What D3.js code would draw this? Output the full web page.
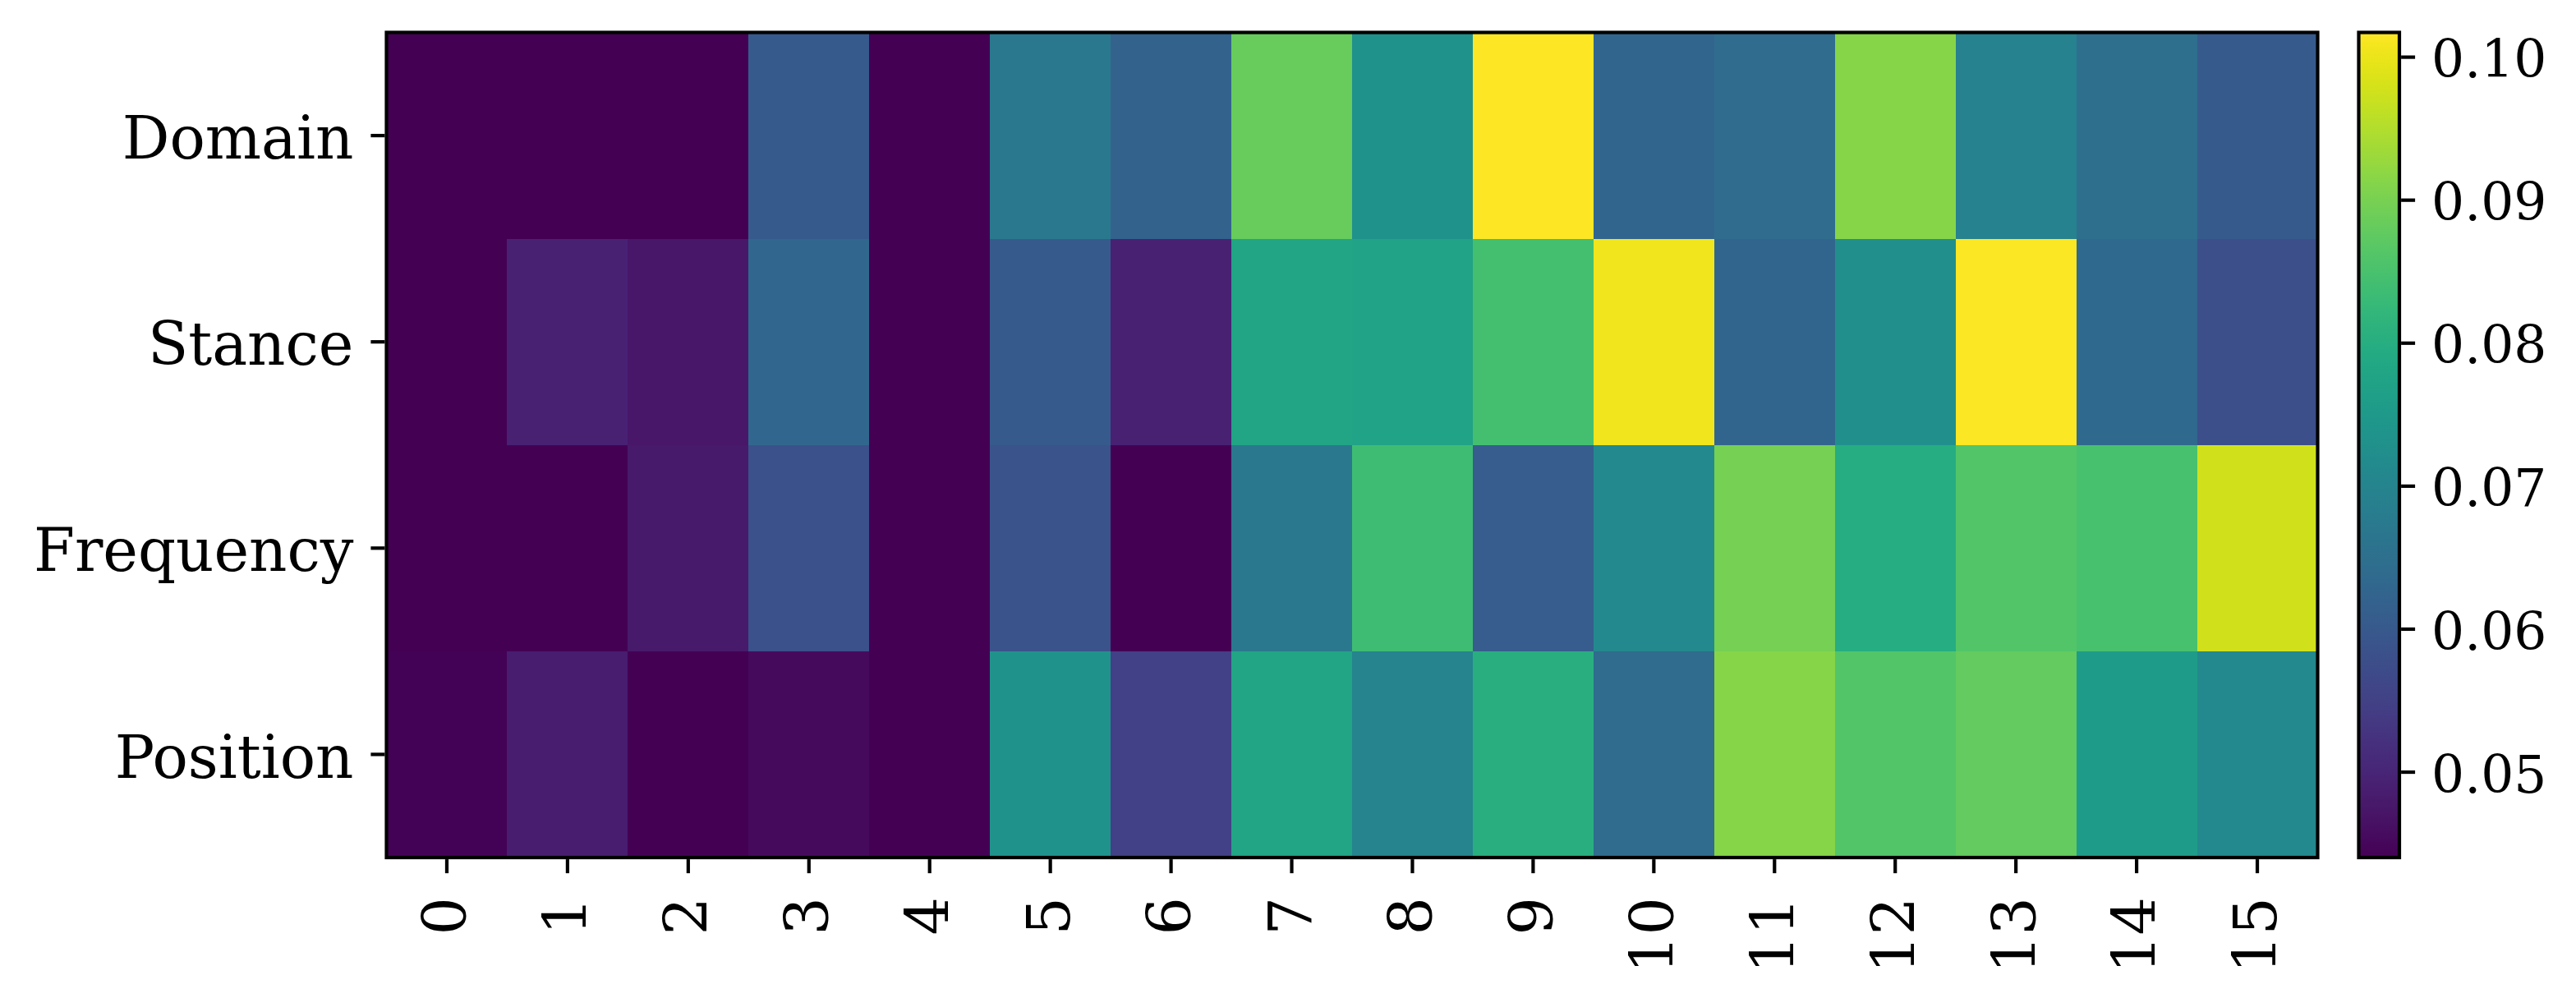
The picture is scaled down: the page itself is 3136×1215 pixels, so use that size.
<!DOCTYPE html>
<html>
<head>
<meta charset="utf-8">
<script src="https://cdn.jsdelivr.net/npm/d3@7"></script>
<style>
  html, body { margin: 0; padding: 0; background: #fff; }
  svg { display: block; }
  text { font-family: "DejaVu Serif", serif; fill: #000; }
</style>
</head>
<body>
<svg id="chart" width="3136" height="1215"></svg>
<script>
// ---- data ----
const rowLabels = ["Domain", "Stance", "Frequency", "Position"];
const colLabels = ["0","1","2","3","4","5","6","7","8","9","10","11","12","13","14","15"];
const domainValues    = [0.0440,0.0440,0.0440,0.0601,0.0440,0.0670,0.0619,0.0884,0.0734,0.1017,0.0625,0.0642,0.0913,0.0694,0.0648,0.0601];
const stanceValues    = [0.0440,0.0492,0.0475,0.0630,0.0440,0.0601,0.0492,0.0780,0.0774,0.0844,0.1005,0.0625,0.0728,0.1014,0.0636,0.0578];
const frequencyValues = [0.0440,0.0440,0.0480,0.0584,0.0440,0.0587,0.0440,0.0670,0.0838,0.0607,0.0711,0.0896,0.0797,0.0861,0.0850,0.0976];
const positionValues  = [0.0444,0.0486,0.0440,0.0455,0.0440,0.0734,0.0550,0.0780,0.0700,0.0803,0.0642,0.0913,0.0861,0.0879,0.0757,0.0711];
const colorbarTicks = [0.05, 0.06, 0.07, 0.08, 0.09, 0.10];

const matrix = [domainValues, stanceValues, frequencyValues, positionValues];
const cells = [];
matrix.forEach((row, i) => row.forEach((v, j) => cells.push({row: rowLabels[i], col: colLabels[j], value: v})));

// ---- layout ----
const svg = d3.select("#chart");
const L = 470.5, R = 2821.5, T = 39.5, B = 1044;
const cbL = 2871.5, cbR = 2921;
const lw = 4.2, tickLen = 17;

const x = d3.scaleBand().domain(colLabels).range([L, R]).padding(0);
const y = d3.scaleBand().domain(rowLabels).range([T, B]).padding(0);
const [vmin, vmax] = d3.extent(cells, d => d.value);
const color = d3.scaleSequential(d3.interpolateViridis).domain([vmin, vmax]);

// cells
svg.append("g").selectAll("rect").data(cells).join("rect")
  .attr("x", d => x(d.col))
  .attr("y", d => y(d.row))
  .attr("width", x.bandwidth() + 0.5)
  .attr("height", y.bandwidth() + 0.5)
  .attr("fill", d => color(d.value))
  .attr("shape-rendering", "crispEdges");

// frame
svg.append("rect").attr("x", L).attr("y", T).attr("width", R - L).attr("height", B - T)
  .attr("fill", "none").attr("stroke", "#000").attr("stroke-width", lw);

// x axis
const xAxis = d3.axisBottom(x).tickSize(tickLen).tickPadding(0);
const gx = svg.append("g").attr("transform", `translate(0,${B + lw/2})`).call(xAxis);
gx.select(".domain").remove();
gx.selectAll(".tick line").attr("stroke", "#000").attr("stroke-width", lw);
gx.selectAll(".tick text")
  .attr("font-size", 73)
  .attr("font-family", "DejaVu Serif")
  .attr("text-anchor", "end")
  .attr("transform", "translate(0,46) rotate(-90)")
  .attr("x", 0).attr("y", 0).attr("dy", "0.32em");

// y axis
const yAxis = d3.axisLeft(y).tickSize(tickLen).tickPadding(21);
const gy = svg.append("g").attr("transform", `translate(${L - lw/2},0)`).call(yAxis);
gy.select(".domain").remove();
gy.selectAll(".tick line").attr("stroke", "#000").attr("stroke-width", lw);
gy.selectAll(".tick text")
  .attr("font-size", 72)
  .attr("font-family", "DejaVu Serif")
  .attr("dy", "0.39em");

// colorbar
const defs = svg.append("defs");
const grad = defs.append("linearGradient").attr("id", "cbgrad")
  .attr("x1", 0).attr("y1", 1).attr("x2", 0).attr("y2", 0);
d3.range(0, 1.0001, 0.02).forEach(t => {
  grad.append("stop").attr("offset", t).attr("stop-color", d3.interpolateViridis(t));
});
svg.append("rect").attr("x", cbL).attr("y", T).attr("width", cbR - cbL).attr("height", B - T)
  .attr("fill", "url(#cbgrad)");
svg.append("rect").attr("x", cbL).attr("y", T).attr("width", cbR - cbL).attr("height", B - T)
  .attr("fill", "none").attr("stroke", "#000").attr("stroke-width", lw);

const cy = d3.scaleLinear().domain([vmin, vmax]).range([B, T]);
const cAxis = d3.axisRight(cy).tickValues(colorbarTicks).tickFormat(d3.format(".2f"))
  .tickSize(tickLen).tickPadding(20);
const gc = svg.append("g").attr("transform", `translate(${cbR + lw/2},0)`).call(cAxis);
gc.select(".domain").remove();
gc.selectAll(".tick line").attr("stroke", "#000").attr("stroke-width", lw);
gc.selectAll(".tick text")
  .attr("font-size", 63)
  .attr("font-family", "DejaVu Serif")
  .attr("dy", "0.39em");
</script>
</body>
</html>
